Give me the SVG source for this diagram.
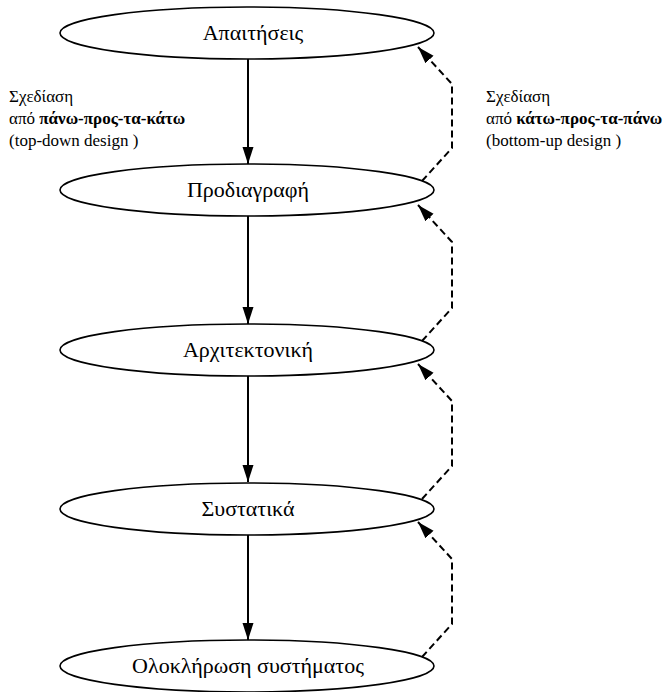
<svg xmlns="http://www.w3.org/2000/svg" width="667" height="692" viewBox="0 0 667 692">
<style>
.node ellipse{fill:#fff;stroke:#000;stroke-width:1.6}
.node text{font-family:'Liberation Serif','Times New Roman','DejaVu Serif',serif;font-size:22px;text-anchor:middle;fill:#000}
.lbl{font-family:'Liberation Serif','Times New Roman','DejaVu Serif',serif;font-size:17px;fill:#000}
.down{stroke:#000;stroke-width:2;fill:none}
.up{stroke:#000;stroke-width:2;fill:none;stroke-dasharray:7 4}
</style>
<defs>
<marker id="ah" markerUnits="userSpaceOnUse" markerWidth="18" markerHeight="12" refX="17" refY="6" orient="auto" viewBox="0 0 18 12">
<path d="M0,0.5 L17,6 L0,11.5 z" fill="#000"/>
</marker>
</defs>
<g id="connectors">
<line class="down" x1="248" y1="59" x2="248" y2="164" marker-end="url(#ah)"/>
<line class="down" x1="248" y1="216" x2="248" y2="324" marker-end="url(#ah)"/>
<line class="down" x1="248" y1="376" x2="248" y2="482" marker-end="url(#ah)"/>
<line class="down" x1="248" y1="535" x2="248" y2="640" marker-end="url(#ah)"/>
<polyline class="up" points="422,181 452,148 452,84 418,47" marker-end="url(#ah)"/>
<polyline class="up" points="422,341 452,308 452,242 418,205" marker-end="url(#ah)"/>
<polyline class="up" points="422,499 452,466 452,401 418,364" marker-end="url(#ah)"/>
<polyline class="up" points="422,657 452,624 452,559 418,522" marker-end="url(#ah)"/>
</g>
<g id="n1" class="node"><ellipse cx="247" cy="33" rx="187" ry="26"/><text x="253" y="40">Απαιτήσεις</text></g>
<g id="n2" class="node"><ellipse cx="247" cy="190" rx="187" ry="26"/><text x="248" y="197">Προδιαγραφή</text></g>
<g id="n3" class="node"><ellipse cx="247" cy="350" rx="187" ry="26"/><text x="248" y="357">Αρχιτεκτονική</text></g>
<g id="n4" class="node"><ellipse cx="247" cy="509" rx="187" ry="26"/><text x="248" y="516">Συστατικά</text></g>
<g id="n5" class="node"><ellipse cx="247" cy="666" rx="187" ry="26"/><text x="248" y="673">Ολοκλήρωση συστήματος</text></g>
<g id="label-left">
<text class="lbl" x="9" y="102">Σχεδίαση</text>
<text class="lbl" x="9" y="124">από <tspan font-weight="bold">πάνω-προς-τα-κάτω</tspan></text>
<text class="lbl" x="9" y="146">(top-down design )</text>
</g>
<g id="label-right">
<text class="lbl" x="486" y="102">Σχεδίαση</text>
<text class="lbl" x="486" y="124">από <tspan font-weight="bold">κάτω-προς-τα-πάνω</tspan></text>
<text class="lbl" x="486" y="146">(bottom-up design )</text>
</g>
</svg>
